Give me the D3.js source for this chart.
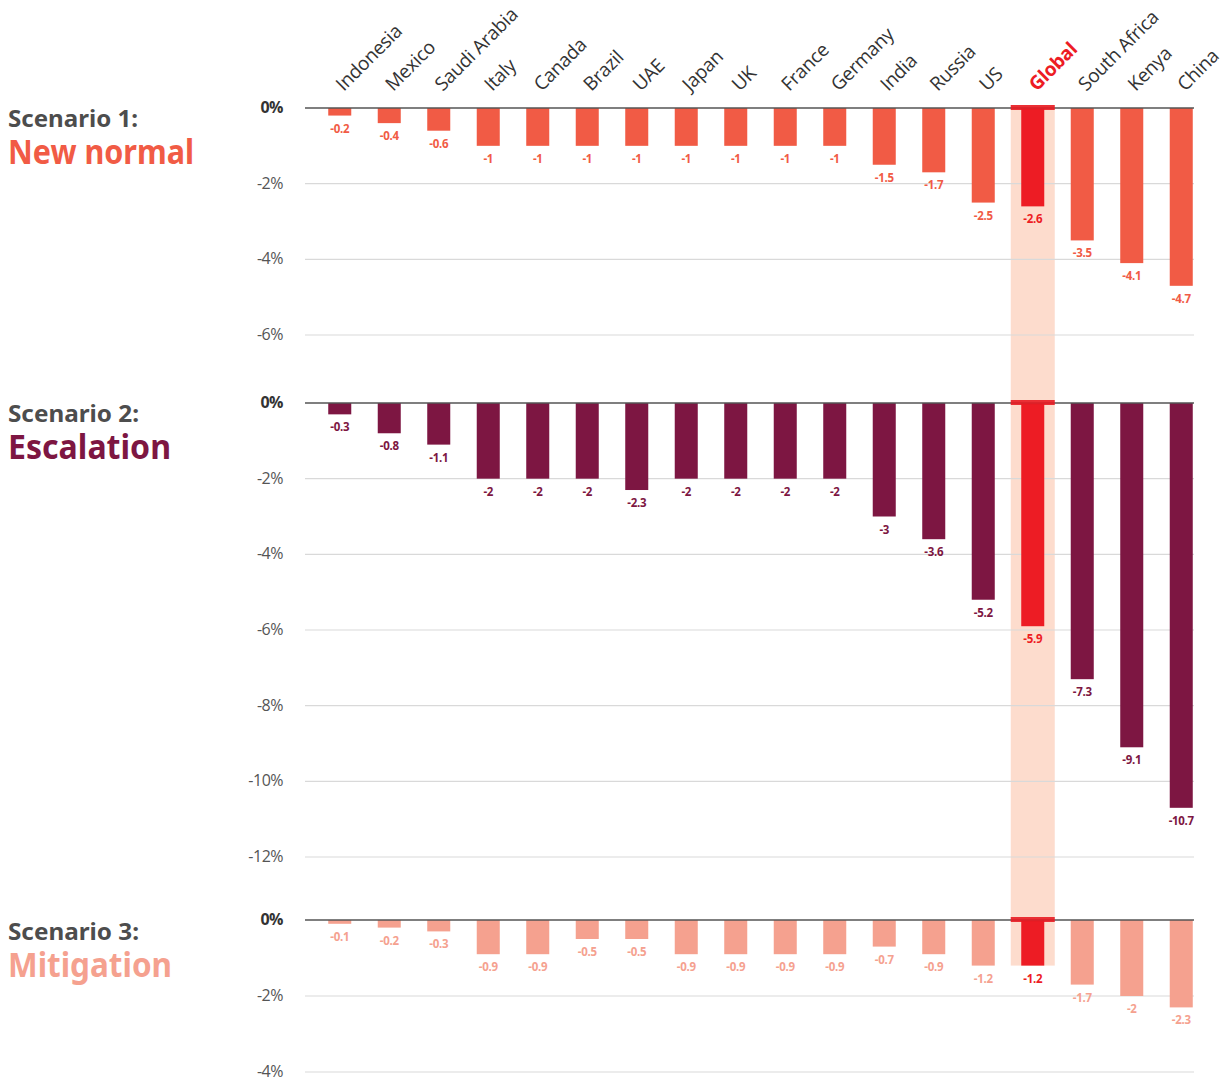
<!DOCTYPE html>
<html>
<head>
  <meta charset="utf-8">
  <title>Scenarios</title>
  <script src="https://d3js.org/d3.v7.min.js"></script>
  <style>
    body { margin: 0; background: #fff; }
    svg { display: block; }
  </style>
</head>
<body>
  <svg id="chart"></svg>
  <script>
    const countries = ["Indonesia", "Mexico", "Saudi Arabia", "Italy", "Canada", "Brazil", "UAE", "Japan", "UK",
      "France", "Germany", "India", "Russia", "US", "Global", "South Africa", "Kenya", "China"];
    const newNormal = [-0.2, -0.4, -0.6, -1, -1, -1, -1, -1, -1, -1, -1, -1.5, -1.7, -2.5, -2.6, -3.5, -4.1, -4.7];
    const escalation = [-0.3, -0.8, -1.1, -2, -2, -2, -2.3, -2, -2, -2, -2, -3, -3.6, -5.2, -5.9, -7.3, -9.1, -10.7];
    const mitigation = [-0.1, -0.2, -0.3, -0.9, -0.9, -0.5, -0.5, -0.9, -0.9, -0.9, -0.9, -0.7, -0.9, -1.2, -1.2, -1.7, -2, -2.3];
    const ticks1 = [0, -2, -4, -6];
    const ticks2 = [0, -2, -4, -6, -8, -10, -12];
    const ticks3 = [0, -2, -4];
    const highlight = "Global";

    const width = 1227, height = 1079;
    const svg = d3.select("#chart").attr("width", width).attr("height", height);

    const x = d3.scaleBand()
      .domain(countries)
      .range([315, 1206])
      .paddingInner(0.535)
      .paddingOuter(0.2675);

    const gridLeft = 305, gridRight = 1194;

    // panels: zero position and bottom tick position
    const panels = [
      { title: "Scenario 1:", name: "New normal", values: newNormal, ticks: ticks1, top: 108, bottom: 335, color: "#f15b45", titleY: 127, tw: 130, nw: 186 },
      { title: "Scenario 2:", name: "Escalation", values: escalation, ticks: ticks2, top: 403, bottom: 857, color: "#7d1642", titleY: 422, tw: 131, nw: 163 },
      { title: "Scenario 3:", name: "Mitigation", values: mitigation, ticks: ticks3, top: 920, bottom: 1072, color: "#f5a18f", titleY: 940, tw: 131, nw: 164 }
    ];
    panels.forEach(p => {
      p.y = d3.scaleLinear().domain([0, d3.min(p.ticks)]).range([p.top, p.bottom]);
    });

    // highlight column behind Global
    const gx = x(highlight) + x.bandwidth() / 2;
    const last = panels[2];
    svg.append("rect")
      .attr("x", gx - 22)
      .attr("width", 44)
      .attr("y", panels[0].y(0) - 3)
      .attr("height", last.y(last.values[countries.indexOf(highlight)]) - panels[0].y(0) + 3)
      .attr("fill", "#fddccd");

    // category labels
    svg.append("g").selectAll("text")
      .data(countries)
      .join("text")
      .attr("transform", d => `translate(${x(d) + x.bandwidth() / 2 + 4},${92}) rotate(-45)`)
      .attr("font-family", "Open Sans, sans-serif")
      .attr("font-size", 19)
      .attr("letter-spacing", -0.3)
      .attr("font-weight", d => d === highlight ? 700 : 400)
      .attr("fill", d => d === highlight ? "#ed1c24" : "#333")
      .text(d => d);

    panels.forEach(p => {
      const g = svg.append("g");

      // gridlines
      g.selectAll("line.grid")
        .data(p.ticks.filter(t => t !== 0))
        .join("line")
        .attr("x1", gridLeft).attr("x2", gridRight)
        .attr("y1", d => p.y(d)).attr("y2", d => p.y(d))
        .attr("stroke", "#d9d9d9")
        .attr("stroke-width", 1.2);

      // y-axis labels
      g.selectAll("text.tick")
        .data(p.ticks)
        .join("text")
        .attr("x", 283)
        .attr("y", d => p.y(d) + 5)
        .attr("text-anchor", "end")
        .attr("font-family", "Open Sans, sans-serif")
        .attr("font-size", 16)
        .attr("font-weight", d => d === 0 ? 700 : 400)
        .attr("fill", d => d === 0 ? "#333" : "#555")
        .attr("letter-spacing", -0.5)
        .text(d => d + "%");

      // bars
      const data = countries.map((c, i) => ({ c, v: p.values[i] }));
      g.selectAll("rect.bar")
        .data(data)
        .join("rect")
        .attr("x", d => x(d.c))
        .attr("width", x.bandwidth())
        .attr("y", p.y(0))
        .attr("height", d => p.y(d.v) - p.y(0))
        .attr("fill", d => d.c === highlight ? "#ed1c24" : p.color);

      // zero line
      g.append("line")
        .attr("x1", gridLeft).attr("x2", gridRight)
        .attr("y1", p.y(0)).attr("y2", p.y(0))
        .attr("stroke", "#555")
        .attr("stroke-width", 1.5);

      // red cap on global
      g.append("rect")
        .attr("x", gx - 22)
        .attr("width", 44)
        .attr("y", p.y(0) - 3)
        .attr("height", 5)
        .attr("fill", "#e81c24")
        .attr("opacity", 0.9);

      // value labels
      g.selectAll("text.val")
        .data(data)
        .join("text")
        .attr("x", d => x(d.c) + x.bandwidth() / 2)
        .attr("y", d => p.y(d.v) + 17)
        .attr("text-anchor", "middle")
        .attr("font-family", "Open Sans, sans-serif")
        .attr("font-size", 11.5)
        .attr("font-weight", 700)
        .attr("letter-spacing", -0.3)
        .attr("fill", d => d.c === highlight ? "#ed1c24" : p.color)
        .text(d => d.v);

      // scenario titles
      g.append("text")
        .attr("x", 8)
        .attr("y", p.titleY)
        .attr("font-family", "Noto Sans, sans-serif")
        .attr("font-size", 24)
        .attr("font-weight", 700)
        .attr("fill", "#4d4d4d")
        .attr("textLength", p.tw)
        .attr("lengthAdjust", "spacingAndGlyphs")
        .text(p.title);
      g.append("text")
        .attr("x", 8)
        .attr("y", p.titleY + 37)
        .attr("font-family", "Noto Sans, sans-serif")
        .attr("font-size", 34)
        .attr("font-weight", 700)
        .attr("fill", p.color)
        .attr("textLength", p.nw)
        .attr("lengthAdjust", "spacingAndGlyphs")
        .text(p.name);
    });
  </script>
</body>
</html>
